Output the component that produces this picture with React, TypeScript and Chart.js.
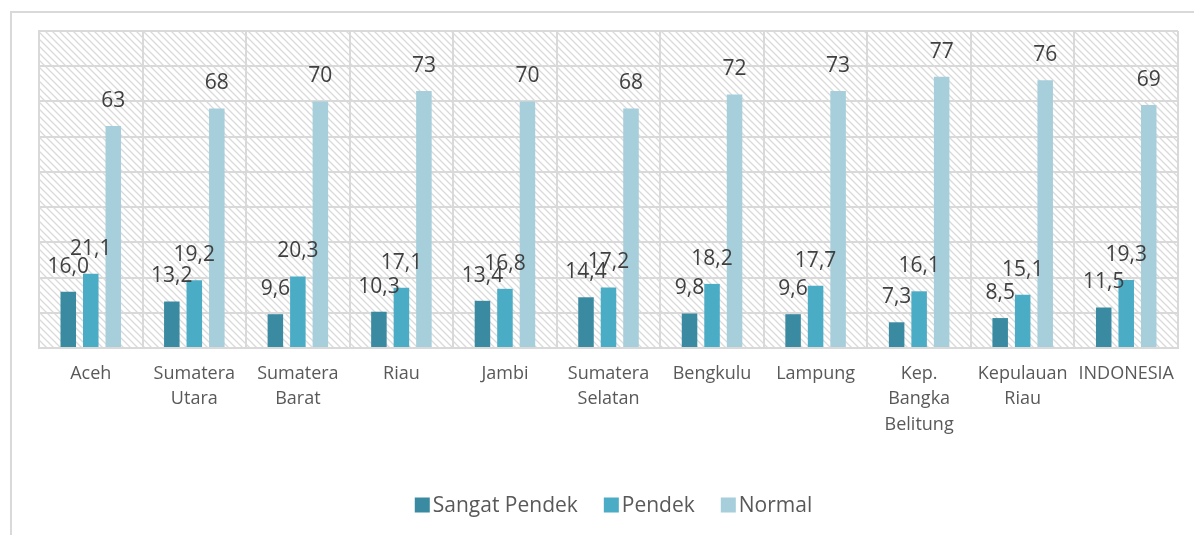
import React, { useEffect, useRef } from "react";
import { Chart, registerables } from "chart.js";

Chart.register(...registerables);

const categories: string[][] = [
  ["Aceh"],
  ["Sumatera", "Utara"],
  ["Sumatera", "Barat"],
  ["Riau"],
  ["Jambi"],
  ["Sumatera", "Selatan"],
  ["Bengkulu"],
  ["Lampung"],
  ["Kep.", "Bangka", "Belitung"],
  ["Kepulauan", "Riau"],
  ["INDONESIA"],
];

const sangatPendek = [16.0, 13.2, 9.6, 10.3, 13.4, 14.4, 9.8, 9.6, 7.3, 8.5, 11.5];
const pendek = [21.1, 19.2, 20.3, 17.1, 16.8, 17.2, 18.2, 17.7, 16.1, 15.1, 19.3];
const normal = [63, 68, 70, 73, 70, 68, 72, 73, 77, 76, 69];

const seriesNames = ["Sangat Pendek", "Pendek", "Normal"];
const seriesColors = ["#3a8ba1", "#4bacc6", "#a6cedb"];
const seriesDecimals = [1, 1, 0];

const yMin = 0;
const yMax = 90;
const yStep = 10;

const FONT = "'Open Sans', 'DejaVu Sans', sans-serif";

function fmt(v: number, d: number): string {
  return v.toFixed(d).replace(".", ",");
}

export default function App() {
  const ref = useRef<HTMLCanvasElement | null>(null);

  useEffect(() => {
    const canvas = ref.current;
    if (!canvas) return;

    const framePlugin = {
      id: "frameAndHatch",
      beforeDraw(chart: any) {
        const { ctx, chartArea } = chart;
        ctx.save();
        ctx.strokeStyle = "#d9d9d9";
        ctx.lineWidth = 2;
        ctx.beginPath();
        ctx.moveTo(11, chart.height);
        ctx.lineTo(11, 12);
        ctx.lineTo(chart.width, 12);
        ctx.stroke();
        const tile = document.createElement("canvas");
        const s = 7;
        tile.width = s;
        tile.height = s;
        const tctx = tile.getContext("2d")!;
        tctx.fillStyle = "#ffffff";
        tctx.fillRect(0, 0, s, s);
        tctx.strokeStyle = "#dadada";
        tctx.lineWidth = 1.3;
        tctx.beginPath();
        tctx.moveTo(-1, -1);
        tctx.lineTo(s + 1, s + 1);
        tctx.moveTo(-1, s - 1);
        tctx.lineTo(1, s + 1);
        tctx.moveTo(s - 1, -1);
        tctx.lineTo(s + 1, 1);
        tctx.stroke();
        const pat = ctx.createPattern(tile, "repeat");
        if (pat) {
          ctx.fillStyle = pat;
          ctx.fillRect(
            chartArea.left,
            chartArea.top,
            chartArea.right - chartArea.left,
            chartArea.bottom - chartArea.top
          );
        }
        ctx.restore();
      },
    };

    const labelPlugin = {
      id: "valueLabels",
      afterDatasetsDraw(chart: any) {
        const { ctx } = chart;
        ctx.save();
        ctx.font = `21px ${FONT}`;
        ctx.fillStyle = "#404040";
        ctx.textAlign = "center";
        ctx.textBaseline = "middle";
        chart.data.datasets.forEach((ds: any, di: number) => {
          const meta = chart.getDatasetMeta(di);
          meta.data.forEach((bar: any, i: number) => {
            const v = ds.data[i] as number;
            ctx.fillText(fmt(v, seriesDecimals[di]), bar.x, bar.y - 25);
          });
        });
        ctx.restore();
      },
    };

    const legendPlugin = {
      id: "customLegend",
      afterDraw(chart: any) {
        const { ctx } = chart;
        ctx.save();
        ctx.font = `21px ${FONT}`;
        ctx.textBaseline = "middle";
        ctx.textAlign = "left";
        const box = 15;
        const gapBoxText = 3;
        const gapItems = 26;
        const widths = seriesNames.map((n) => ctx.measureText(n).width);
        const total =
          widths.reduce((a: number, w: number) => a + box + gapBoxText + w, 0) +
          gapItems * (seriesNames.length - 1);
        const centerX = 613.5;
        const cy = 505;
        let x = centerX - total / 2;
        seriesNames.forEach((n, i) => {
          ctx.fillStyle = seriesColors[i];
          ctx.fillRect(x, cy - box / 2, box, box);
          x += box + gapBoxText;
          ctx.fillStyle = "#595959";
          ctx.fillText(n, x, cy + 1);
          x += widths[i] + gapItems;
        });
        ctx.restore();
      },
    };

    const chart = new Chart(canvas, {
      type: "bar",
      data: {
        labels: categories,
        datasets: [sangatPendek, pendek, normal].map((d, i) => ({
          label: seriesNames[i],
          data: d,
          backgroundColor: seriesColors[i],
          borderWidth: 0,
          categoryPercentage: 0.652,
          barPercentage: 0.69,
        })),
      },
      options: {
        animation: false,
        responsive: false,
        maintainAspectRatio: false,
        layout: { padding: { left: 39, top: 31, right: 16, bottom: 0 } },
        plugins: {
          legend: { display: false },
          tooltip: { enabled: false },
        },
        scales: {
          x: {
            offset: true,
            grid: {
              offset: true,
              color: "#d9d9d9",
              lineWidth: 2,
              drawTicks: false,
            },
            border: { color: "#d9d9d9", width: 2 },
            ticks: {
              color: "#595959",
              font: { family: FONT, size: 18, lineHeight: 1.42 },
              padding: 13,
              maxRotation: 0,
              autoSkip: false,
            },
            afterFit: (axis: any) => {
              axis.height = 187;
            },
          },
          y: {
            min: yMin,
            max: yMax,
            ticks: { stepSize: yStep, display: false },
            grid: { color: "#d9d9d9", lineWidth: 2, drawTicks: false },
            border: { color: "#d9d9d9", width: 2 },
            afterFit: (axis: any) => {
              axis.width = 0;
            },
          },
        },
      },
      plugins: [framePlugin, labelPlugin, legendPlugin],
    });

    return () => chart.destroy();
  }, []);

  return (
    <div style={{ position: "fixed", left: 0, top: 0, width: 1194, height: 535, background: "#fff" }}>
      <canvas ref={ref} width={1194} height={535} style={{ display: "block" }} />
    </div>
  );
}
